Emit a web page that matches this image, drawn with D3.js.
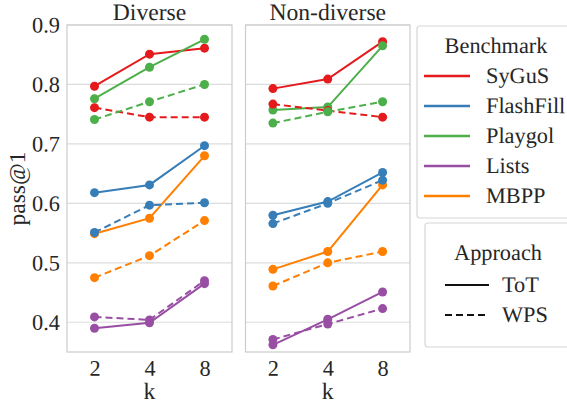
<!DOCTYPE html>
<html><head><meta charset="utf-8">
<script src="https://cdn.jsdelivr.net/npm/d3@7"></script>
</head><body style="margin:0;background:#fff"><svg id="c" width="567" height="404" style="display:block"></svg>
<script>
const ks = ["2","4","8"];
const panels = ["Diverse","Non-diverse"];
const benchmarks = ["SyGuS","FlashFill","Playgol","Lists","MBPP"];
const approaches = ["ToT","WPS"];
const colors = ["#e41a1c","#377eb8","#4daf4a","#984ea3","#ff7f00"];
const yTicks = [0.4,0.5,0.6,0.7,0.8,0.9];
// Diverse
const divToT = {SyGuS:[0.797,0.851,0.861],FlashFill:[0.618,0.631,0.697],Playgol:[0.776,0.829,0.876],Lists:[0.390,0.399,0.465],MBPP:[0.549,0.575,0.680]};
const divWPS = {SyGuS:[0.761,0.745,0.745],FlashFill:[0.551,0.597,0.601],Playgol:[0.741,0.771,0.800],Lists:[0.409,0.404,0.470],MBPP:[0.475,0.512,0.571]};
// Non-diverse
const ndToT = {SyGuS:[0.793,0.809,0.872],FlashFill:[0.580,0.603,0.652],Playgol:[0.757,0.762,0.865],Lists:[0.362,0.405,0.451],MBPP:[0.489,0.519,0.631]};
const ndWPS = {SyGuS:[0.767,0.756,0.745],FlashFill:[0.566,0.600,0.639],Playgol:[0.735,0.754,0.771],Lists:[0.371,0.397,0.423],MBPP:[0.461,0.500,0.519]};

const FONT = '"Liberation Serif","Tinos"';
const data = [[divToT,divWPS],[ndToT,ndWPS]];
const svg = d3.select("#c");
const pTop=25, pBottom=352;
const panelX = [[67,232],[245.5,410]];
const y = d3.scaleLinear().domain([0.35,0.9]).range([pBottom,pTop]);
const color = d3.scaleOrdinal().domain(benchmarks).range(colors);
const dash = {ToT:null, WPS:"7,4"};
const FS = 22.3, FT = 23.6;

panels.forEach((p,pi)=>{
  const [x0,x1]=panelX[pi];
  const x = d3.scalePoint().domain(ks).range([x0,x1]).padding(0.5);
  const g = svg.append("g");
  g.selectAll("line.grid").data(yTicks).join("line")
    .attr("x1",x0).attr("x2",x1).attr("y1",d=>y(d)).attr("y2",d=>y(d))
    .attr("stroke","#dcdcdc").attr("stroke-width",1.2);
  g.append("rect").attr("x",x0).attr("y",pTop).attr("width",x1-x0).attr("height",pBottom-pTop)
    .attr("fill","none").attr("stroke","#cccccc").attr("stroke-width",1.2);
  const xa = g.append("g").attr("transform",`translate(0,${pBottom})`).call(d3.axisBottom(x).tickSize(0).tickPadding(8));
  xa.select(".domain").remove();
  xa.selectAll("text").style("font-size",FS+"px");
  g.append("text").attr("x",(x0+x1)/2).attr("y",399).attr("text-anchor","middle").style("font-size",FT+"px").text("k");
  g.append("text").attr("x",(x0+x1)/2).attr("y",20).attr("text-anchor","middle").style("font-size",FT+"px").text(p);
  if(pi===0){
    const ya = g.append("g").attr("transform",`translate(${x0},0)`).call(d3.axisLeft(y).tickValues(yTicks).tickFormat(d3.format(".1f")).tickSize(0).tickPadding(7));
    ya.select(".domain").remove();
    ya.selectAll("text").style("font-size",FS+"px");
    g.append("text").attr("transform",`translate(25,${(pTop+pBottom)/2}) rotate(-90)`).attr("text-anchor","middle").style("font-size",FT+"px").text("pass@1");
  }
  const line = d3.line().x((d,i)=>x(ks[i])).y(d=>y(d));
  approaches.forEach((a,ai)=>{
    const src = data[pi][ai];
    benchmarks.forEach(b=>{
      g.append("path").attr("d",line(src[b])).attr("fill","none").attr("stroke",color(b))
        .attr("stroke-width",2).attr("stroke-dasharray",dash[a]);
      g.selectAll(null).data(src[b]).join("circle").attr("cx",(d,i)=>x(ks[i])).attr("cy",d=>y(d))
        .attr("r",4.5).attr("fill",color(b));
    });
  });
});

const l1 = svg.append("g");
l1.append("rect").attr("x",417).attr("y",26).attr("width",160).attr("height",192).attr("rx",3)
  .attr("fill","#fff").attr("stroke","#d6d6d6").attr("stroke-width",1.2);
l1.append("text").attr("x",496).attr("y",53).attr("text-anchor","middle").style("font-size",FS+"px").text("Benchmark");
benchmarks.forEach((b,i)=>{
  const yy = 76+i*30;
  l1.append("line").attr("x1",424).attr("x2",470).attr("y1",yy).attr("y2",yy).attr("stroke",color(b)).attr("stroke-width",2.5);
  l1.append("text").attr("x",486).attr("y",yy+7).style("font-size",FS+"px").text(b);
});
const l2 = svg.append("g");
l2.append("rect").attr("x",425).attr("y",223).attr("width",160).attr("height",124).attr("rx",3)
  .attr("fill","#fff").attr("stroke","#d6d6d6").attr("stroke-width",1.2);
l2.append("text").attr("x",498).attr("y",260).attr("text-anchor","middle").style("font-size",FS+"px").text("Approach");
approaches.forEach((a,i)=>{
  const yy = 285+i*30;
  l2.append("line").attr("x1",445).attr("x2",489).attr("y1",yy).attr("y2",yy).attr("stroke","#111").attr("stroke-width",2)
    .attr("stroke-dasharray",dash[a]);
  l2.append("text").attr("x",502).attr("y",yy+7).style("font-size",FS+"px").text(a);
});
svg.selectAll("text").style("font-family",FONT).attr("fill","#262626").each(function(){
  const t = d3.select(this);
  const tr = t.attr("transform");
  if(tr) return;
  const tx = +t.attr("x")||0, ty = +t.attr("y")||0;
  t.attr("transform",`rotate(0.1,${tx},${ty})`);
});
</script></body></html>
